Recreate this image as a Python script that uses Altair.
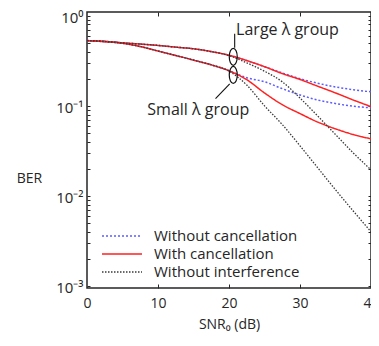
import altair as alt
import pandas as pd

# ---- data ----
snr = [0, 2.5, 5, 7.5, 10, 12.5, 15, 17.5, 20, 22.5, 25, 27.5, 30, 32.5, 35, 37.5, 40]

large_wo_cancel = [0.53, 0.52, 0.50, 0.485, 0.468, 0.448, 0.43, 0.40, 0.365, 0.318, 0.272, 0.232, 0.200, 0.178, 0.162, 0.151, 0.143]
large_w_cancel = [0.53, 0.52, 0.50, 0.485, 0.468, 0.448, 0.43, 0.40, 0.365, 0.318, 0.272, 0.228, 0.196, 0.165, 0.139, 0.116, 0.098]
large_wo_interf = [0.53, 0.52, 0.50, 0.485, 0.468, 0.448, 0.43, 0.40, 0.36, 0.30, 0.242, 0.185, 0.122, 0.077, 0.048, 0.030, 0.0195]
small_wo_cancel = [0.53, 0.515, 0.495, 0.455, 0.405, 0.362, 0.322, 0.285, 0.245, 0.205, 0.185, 0.155, 0.132, 0.116, 0.106, 0.099, 0.095]
small_w_cancel = [0.53, 0.515, 0.495, 0.455, 0.405, 0.362, 0.322, 0.285, 0.245, 0.195, 0.139, 0.103, 0.082, 0.066, 0.0555, 0.048, 0.043]
small_wo_interf = [0.53, 0.515, 0.495, 0.455, 0.405, 0.362, 0.322, 0.285, 0.243, 0.17, 0.10, 0.062, 0.036, 0.0205, 0.0117, 0.0068, 0.0040]

types = ["Without cancellation", "With cancellation", "Without interference"]
groups = ["Large", "Small"]

x_ticks = [0, 10, 20, 30, 40]
x_inner_ticks = [10, 20, 30]
y_ticks = [0.001, 0.01, 0.1, 1]
y_inner_ticks = [0.001, 0.002, 0.003, 0.004, 0.005, 0.006, 0.007, 0.008, 0.009,
                 0.01, 0.02, 0.03, 0.04, 0.05, 0.06, 0.07, 0.08, 0.09,
                 0.1, 0.2, 0.3, 0.4, 0.5, 0.6, 0.7, 0.8, 0.9, 1]

ann_labels = ["Large λ group", "Small λ group"]
ann_snr = [21.0, 8.5]
ann_ber = [0.70, 0.090]
ell_snr = [20.6, 20.6]
ell_ber = [0.35, 0.22]
conn_snr = [20.8, 20.1]
conn_ber = [0.441, 0.175]
conn_snr2 = [20.8, 18.1]
conn_ber2 = [0.631, 0.12]

series = {
    ("Large", "Without cancellation"): large_wo_cancel,
    ("Large", "With cancellation"): large_w_cancel,
    ("Large", "Without interference"): large_wo_interf,
    ("Small", "Without cancellation"): small_wo_cancel,
    ("Small", "With cancellation"): small_w_cancel,
    ("Small", "Without interference"): small_wo_interf,
}
rows = []
for (g, t), vals in series.items():
    for s, v in zip(snr, vals):
        rows.append({"snr": s, "ber": v, "type": t, "group": g})
df = pd.DataFrame(rows)

ann_df = pd.DataFrame({"snr": ann_snr, "ber": ann_ber, "label": ann_labels})
ell_df = pd.DataFrame({"snr": ell_snr, "ber": ell_ber})
conn_df = pd.DataFrame({"snr": conn_snr, "ber": conn_ber, "snr2": conn_snr2, "ber2": conn_ber2})

W, H = 284, 276
FONT = "Open Sans"
INK = "#262626"

x_scale = alt.Scale(domain=[0, 40], nice=False, zero=False)
y_scale = alt.Scale(type="log", domain=[0.00095, 1.1], nice=False)
color_scale = alt.Scale(domain=types, range=["#5c5cff", "#ff2020", "#3a3a3a"])
dash_scale = alt.Scale(domain=types, range=[[2, 2], [1, 0], [1.5, 1.5]])

legend = alt.Legend(
    title=None, orient="none", legendX=25, legendY=214,
    labelFont=FONT, labelFontSize=15, labelColor=INK, labelOffset=22,
    symbolType="M-2.222,0L2.222,0", symbolSize=324, symbolStrokeWidth=1.5,
    rowPadding=0, padding=0,
)

main_x_axis = alt.Axis(
    values=x_ticks, tickSize=0, domain=False, grid=False, labelFlush=False,
    labelFont=FONT, labelFontSize=14, labelColor=INK, labelPadding=8,
    title="SNR₀ (dB)", titleFont=FONT, titleFontSize=14, titleFontWeight="normal",
    titleColor=INK, titleX=142, titleY=36, titleBaseline="middle", titleAlign="center",
)
main_y_axis = alt.Axis(
    values=y_ticks, tickSize=0, domain=False, grid=False, labelFlush=False,
    labelExpr="datum.value >= 0.5 ? '10⁰' : datum.value >= 0.05 ? '10⁻¹' : datum.value >= 0.005 ? '10⁻²' : '10⁻³'",
    labelFont=FONT, labelFontSize=15, labelColor=INK, labelPadding=4, labelOffset=2,
    title="BER", titleFont=FONT, titleFontSize=14, titleFontWeight="normal",
    titleColor=INK, titleAngle=0, titleX=-58, titleY=166,
    titleAlign="center", titleBaseline="middle",
)


def line_layer(t, width, axes):
    xa = main_x_axis if axes else None
    ya = main_y_axis if axes else None
    return alt.Chart(df).transform_filter(alt.datum.type == t).mark_line(
        strokeWidth=width, interpolate="monotone"
    ).encode(
        x=alt.X("snr:Q", scale=x_scale, axis=xa),
        y=alt.Y("ber:Q", scale=y_scale, axis=ya),
        color=alt.Color("type:N", scale=color_scale, legend=legend),
        strokeDash=alt.StrokeDash("type:N", scale=dash_scale, legend=legend),
        detail="group:N",
    )


blue = line_layer("Without cancellation", 1.5, True)
red = line_layer("With cancellation", 1.5, False)
black = line_layer("Without interference", 1.3, False)


def tick_layer(x_orient, y_orient):
    return alt.Chart(df).mark_point(opacity=0).encode(
        x=alt.X("snr:Q", scale=x_scale, axis=alt.Axis(
            orient=x_orient, offset=-H, values=x_inner_ticks, labels=False,
            domain=False, grid=False, ticks=True, tickSize=4, tickColor=INK, title=None)),
        y=alt.Y("ber:Q", scale=y_scale, axis=alt.Axis(
            orient=y_orient, offset=-W, values=y_inner_ticks, labels=False,
            domain=False, grid=False, ticks=True, tickSize=3, tickColor=INK, title=None)),
    )


ticks_a = tick_layer("bottom", "right")
ticks_b = tick_layer("top", "left")

text = alt.Chart(ann_df).mark_text(
    align="left", baseline="middle", font=FONT, fontSize=16, color=INK
).encode(
    x=alt.X("snr:Q", scale=x_scale, axis=None),
    y=alt.Y("ber:Q", scale=y_scale, axis=None),
    text="label:N",
)

ellipses = alt.Chart(ell_df).mark_point(
    shape="M0,-1A0.47,1,0,1,1,0,1A0.47,1,0,1,1,0,-1Z",
    size=289, filled=False, stroke="#111111", strokeWidth=1.2, opacity=1,
).encode(
    x=alt.X("snr:Q", scale=x_scale, axis=None),
    y=alt.Y("ber:Q", scale=y_scale, axis=None),
)

connectors = alt.Chart(conn_df).mark_rule(color="#111111", strokeWidth=1.1).encode(
    x=alt.X("snr:Q", scale=x_scale, axis=None),
    y=alt.Y("ber:Q", scale=y_scale, axis=None),
    x2="snr2:Q",
    y2="ber2:Q",
)

chart = alt.layer(
    blue, red, black, ticks_a, ticks_b, ellipses, connectors, text
).resolve_axis(
    x="independent", y="independent"
).properties(
    width=W, height=H, autosize="none",
    padding={"left": 79, "top": 4, "right": 0, "bottom": 45},
).configure_view(
    stroke=INK, strokeWidth=1.5
)

chart.save("out.html", embed_options={"renderer": "svg", "actions": False})
